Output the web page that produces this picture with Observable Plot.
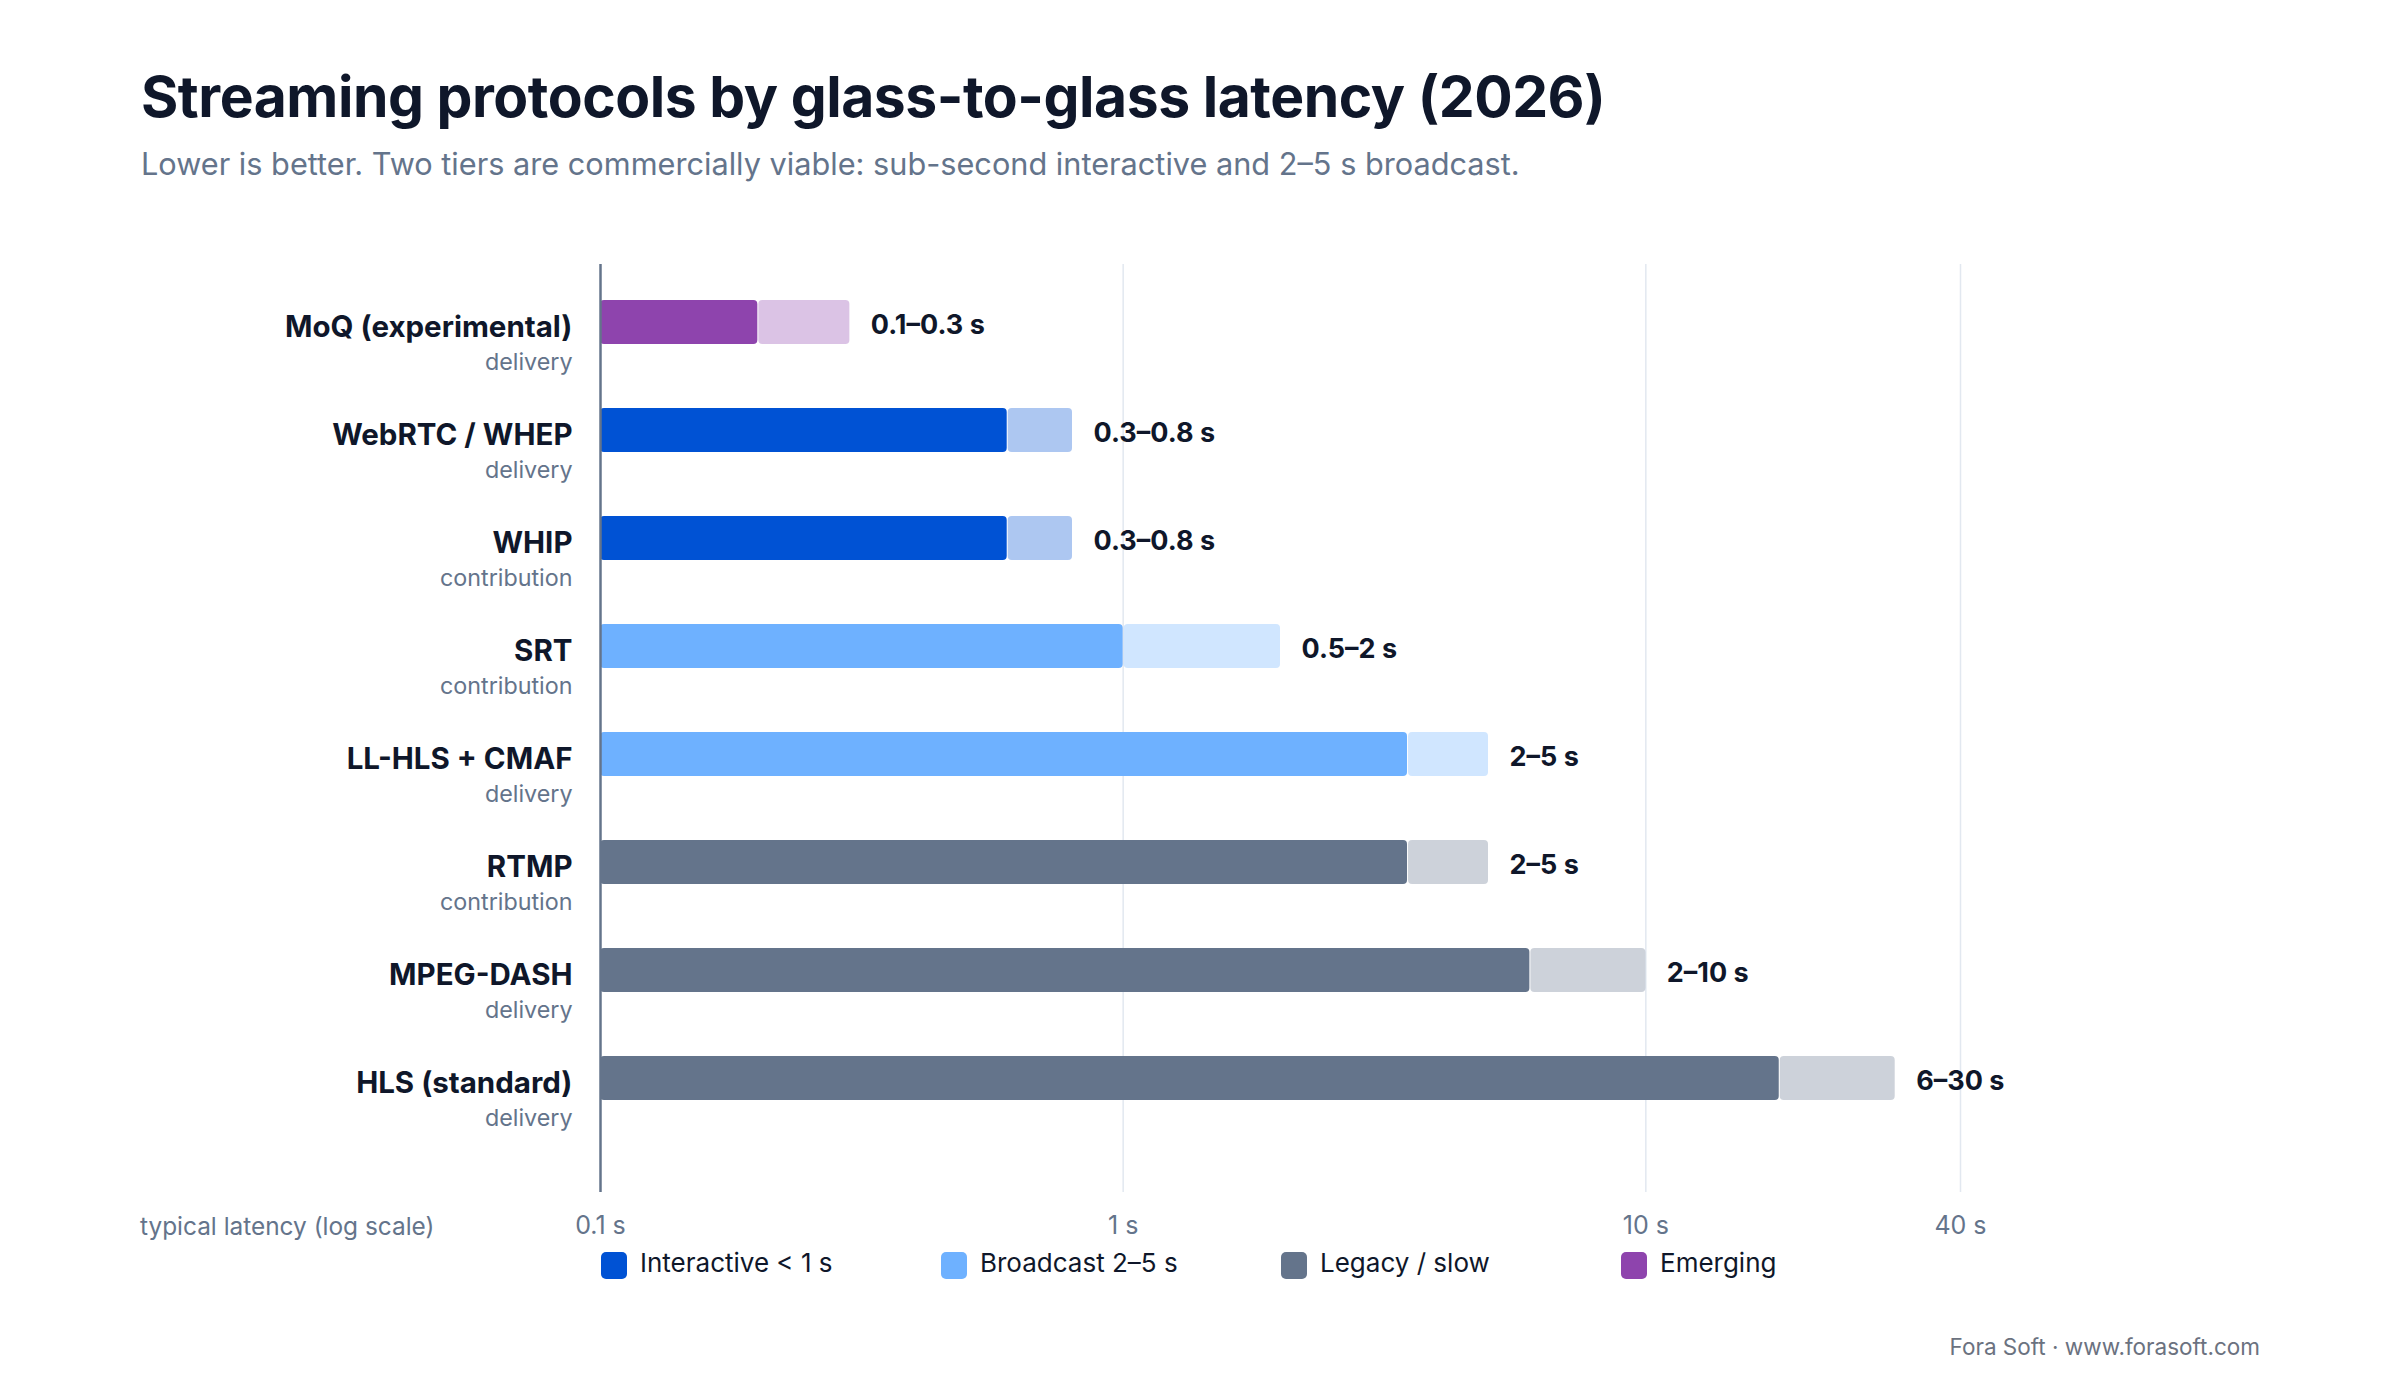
<!DOCTYPE html>
<html>
<head>
<meta charset="utf-8">
<script src="https://cdn.jsdelivr.net/npm/d3@7"></script>
<script src="https://cdn.jsdelivr.net/npm/@observablehq/plot@0.6"></script>
<style>
  html, body { margin: 0; padding: 0; background: #ffffff; }
  #wrap { position: relative; width: 2400px; height: 1400px; font-family: Inter, "Noto Sans", sans-serif; overflow: hidden; }
  #wrap svg { position: absolute; left: 0; top: 0; }
  .t { position: absolute; white-space: nowrap; line-height: 1; }
  .sw { position: absolute; width: 26px; height: 27px; border-radius: 5px; }
</style>
</head>
<body>
<div id="wrap"></div>
<script>
// ---- data ----
const protocols = ["MoQ (experimental)", "WebRTC / WHEP", "WHIP", "SRT", "LL-HLS + CMAF", "RTMP", "MPEG-DASH", "HLS (standard)"];
const roles = ["delivery", "delivery", "contribution", "contribution", "delivery", "contribution", "delivery", "delivery"];
const tiers = ["Emerging", "Interactive < 1 s", "Interactive < 1 s", "Broadcast 2–5 s", "Broadcast 2–5 s", "Legacy / slow", "Legacy / slow", "Legacy / slow"];
const lowLatency = [0.1, 0.3, 0.3, 0.5, 2, 2, 2, 6];
const typicalLatency = [0.2, 0.6, 0.6, 1, 3.5, 3.5, 6, 18];
const highLatency = [0.3, 0.8, 0.8, 2, 5, 5, 10, 30];
const tickValues = [0.1, 1, 10, 40];
const tickLabels = ["0.1 s", "1 s", "10 s", "40 s"];
const tierNames = ["Interactive < 1 s", "Broadcast 2–5 s", "Legacy / slow", "Emerging"];
const tierColors = ["#0052d4", "#6eb1ff", "#64748b", "#8e44ad"];

const rows = protocols.map((p, i) => ({
  name: p, role: roles[i], tier: tiers[i],
  low: lowLatency[i], typical: typicalLatency[i], high: highLatency[i],
  label: `${lowLatency[i]}–${highLatency[i]} s`
}));
const ticks = tickValues.map((v, i) => ({ v, label: tickLabels[i] }));

const wrap = document.getElementById("wrap");
const W = 2400, H = 1400;
const mL = 600, mR = 440, mT = 264, mB = 208;
const step = 108;
const po = ((H - mT - mB) / step - protocols.length) / 2;

const chart = Plot.plot({
  width: W, height: H,
  marginLeft: mL, marginRight: mR, marginTop: mT, marginBottom: mB,
  style: { fontFamily: "Inter, 'Noto Sans', sans-serif", background: "transparent", overflow: "visible" },
  x: { type: "log", domain: [0.1, 40], axis: null },
  y: { domain: protocols, paddingInner: 0, paddingOuter: po, round: false, axis: null },
  color: { domain: tierNames, range: tierColors },
  marks: [
    Plot.ruleX(tickValues.slice(1), { stroke: "#e2e8f0", strokeWidth: 1.5 }),
    Plot.barX(rows, { y: "name", x1: "typical", x2: "high", fill: "tier", fillOpacity: 0.32, rx: 4, insetTop: 4, insetBottom: step - 48, insetLeft: 1 }),
    Plot.barX(rows, { y: "name", x1: () => 0.1, x2: "typical", fill: "tier", rx: 4, insetTop: 4, insetBottom: step - 48 }),
    Plot.ruleX([0.1], { stroke: "#64748b", strokeWidth: 2.5 }),
    Plot.text(rows, { y: "name", x: "high", text: "label", dx: 21, dy: -25, textAnchor: "start", fontSize: 27, fontWeight: 700, fill: "#0f172a" }),
    Plot.text(rows, { y: "name", frameAnchor: "left", text: "name", dx: -28, dy: -23, textAnchor: "end", fontSize: 29.5, fontWeight: 700, fill: "#0f172a" }),
    Plot.text(rows, { y: "name", frameAnchor: "left", text: "role", dx: -28, dy: 12.5, textAnchor: "end", fontSize: 23.3, fill: "#64748b" }),
    Plot.text(ticks, { x: "v", text: "label", frameAnchor: "bottom", dy: 41, fontSize: 25, fill: "#64748b" })
  ]
});
wrap.appendChild(chart);

function addText(txt, left, baseline, fs, opts = {}) {
  const d = document.createElement("div");
  d.className = "t";
  d.textContent = txt;
  d.style.fontSize = fs + "px";
  d.style.top = (baseline - 0.864 * fs) + "px";
  if (opts.right != null) d.style.right = opts.right + "px"; else d.style.left = left + "px";
  d.style.fontWeight = opts.weight || 400;
  d.style.color = opts.color || "#0f172a";
  if (opts.ls) d.style.letterSpacing = opts.ls;
  wrap.appendChild(d);
  return d;
}

addText("Streaming protocols by glass-to-glass latency (2026)", 141, 117, 57, { weight: 700, color: "#0f172a", ls: "-0.008em" });
addText("Lower is better. Two tiers are commercially viable: sub-second interactive and 2–5 s broadcast.", 141, 176, 30.7, { color: "#64748b" });
addText("typical latency (log scale)", 140, 1235, 24.4, { color: "#64748b" });
addText("Fora Soft · www.forasoft.com", 0, 1355, 22.5, { right: 140, color: "#6b7280" });

tierNames.forEach((t, i) => {
  const x = 601 + 340 * i;
  const s = document.createElement("div");
  s.className = "sw";
  s.style.left = x + "px";
  s.style.top = "1251.5px";
  s.style.background = tierColors[i];
  wrap.appendChild(s);
  addText(t, x + 39, 1272.5, 26, { color: "#0f172a" });
});
</script>
</body>
</html>
